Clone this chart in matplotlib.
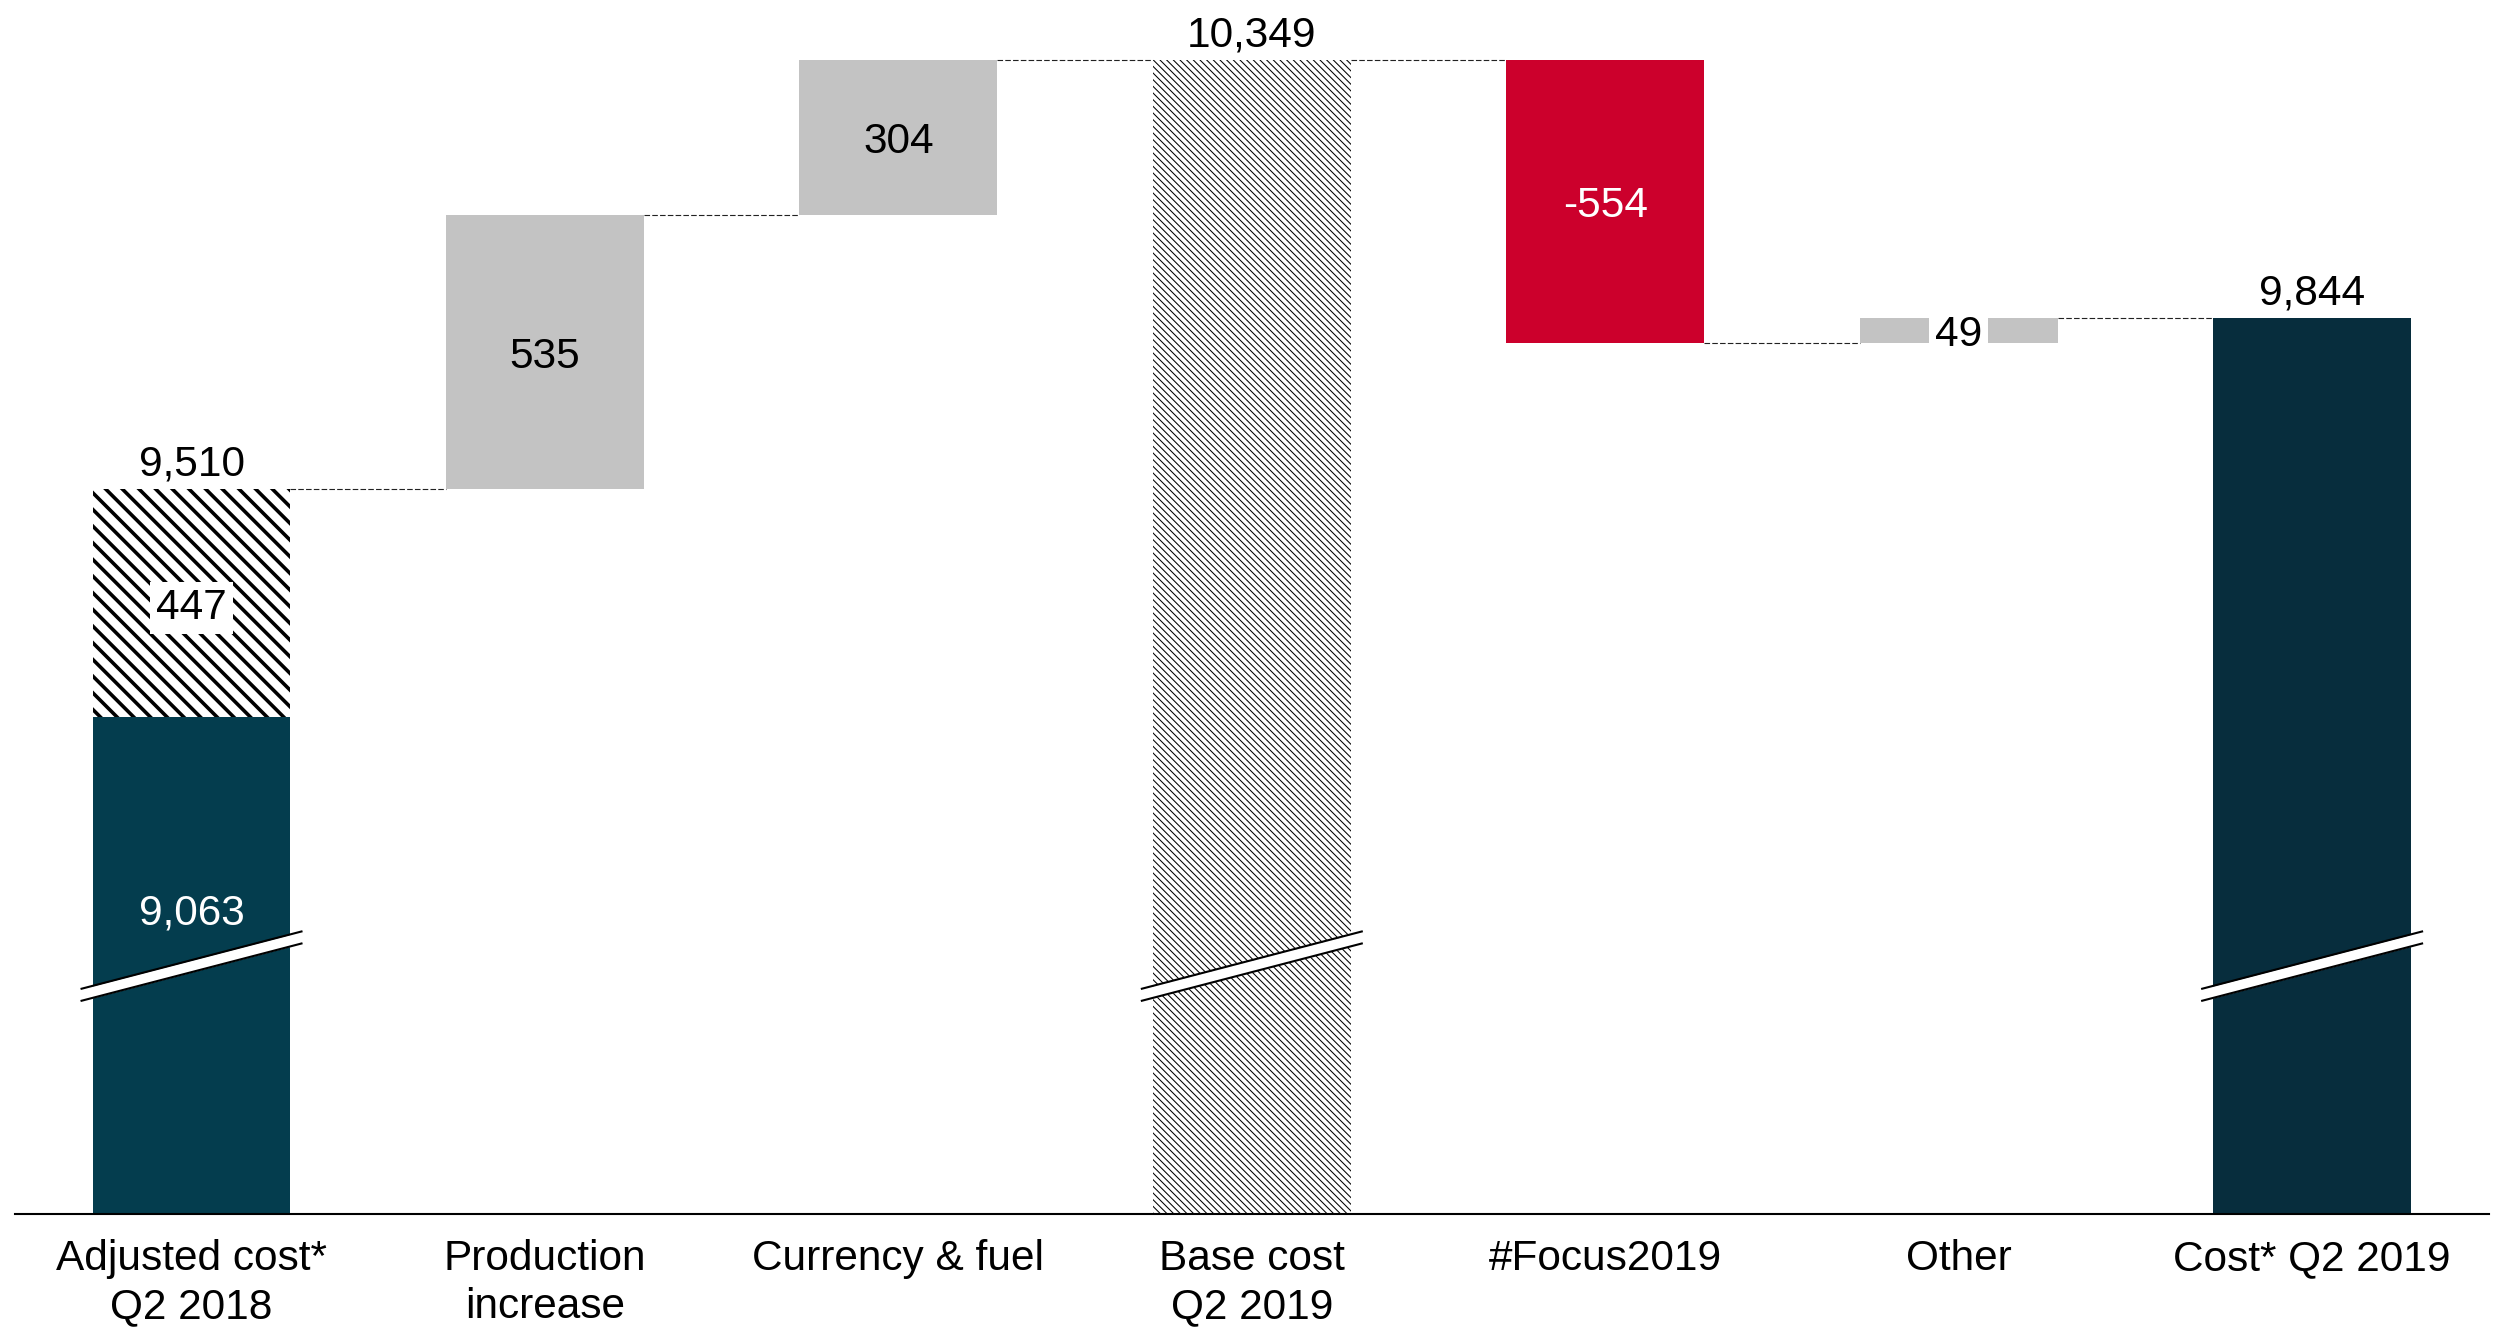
import numpy as np
import matplotlib.pyplot as plt

plt.rcParams['font.family'] = ['Liberation Sans', 'DejaVu Sans']

# cost bridge Q2 2018 -> Q2 2019 (values in millions)
categories = ['Adjusted cost*\nQ2 2018', 'Production\nincrease', 'Currency & fuel',
              'Base cost\nQ2 2019', '#Focus2019', 'Other', 'Cost* Q2 2019']
cost_q2_2018 = 9063
adjustment = 447
production = 535
currency_fuel = 304
base_cost = 10349
focus2019 = -554
other = 49
cost_q2_2019 = 9844

teal = '#043d4e'
navy = '#072d3d'
grey = '#c3c3c3'
red = '#cc002c'

x = np.arange(len(categories))
w = 0.56

# running totals
adjusted = cost_q2_2018 + adjustment
after_prod = adjusted + production
after_cur = after_prod + currency_fuel
after_focus = base_cost + focus2019
after_other = after_focus + other

fig = plt.figure(figsize=(24.98, 13.29), dpi=100)
ax = fig.add_axes([0.00593, 0.08653, 0.9904, 0.91347])

#bars:
ax.bar(x[0], cost_q2_2018, w, color=teal, zorder=2)
hb = ax.bar(x[0], adjustment, w, bottom=cost_q2_2018, facecolor='white', edgecolor='black',
            hatch='\\' * 2, linewidth=0, zorder=2)
ax.bar(x[1], production, w, bottom=adjusted, color=grey, zorder=2)
ax.bar(x[2], currency_fuel, w, bottom=after_prod, color=grey, zorder=2)
fb = ax.bar(x[3], base_cost, w, facecolor='white', edgecolor='black',
            hatch='\\' * 5, linewidth=0, zorder=2)
ax.bar(x[4], focus2019, w, bottom=base_cost, color=red, zorder=2)
ax.bar(x[5], other, w, bottom=after_focus, color=grey, zorder=2)
ax.bar(x[6], cost_q2_2019, w, color=navy, zorder=2)

# hatch line widths (per artist where supported)
for p in hb:
    if hasattr(p, 'set_hatch_linewidth'):
        p.set_hatch_linewidth(2.6)
for p in fb:
    if hasattr(p, 'set_hatch_linewidth'):
        p.set_hatch_linewidth(0.75)

#dashed connectors between bars:
levels = [adjusted, after_prod, after_cur, base_cost, after_focus, after_other]
for i, lv in enumerate(levels):
    ax.plot([x[i] + w / 2, x[i + 1] - w / 2], [lv, lv], color='#222222', lw=0.8,
            dashes=(5, 2), zorder=1)

#axis break marks on the full bars:
bx = 0.314
gap = 23.5
for xi in [x[0], x[3], x[6]]:
    xs = np.array([xi - bx, xi + bx])
    ys = np.array([8532, 8645])
    ax.fill_between(xs, ys - gap, ys, color='white', lw=0, zorder=3)
    ax.plot(xs, ys, color='black', lw=1.5, zorder=4, solid_capstyle='butt')
    ax.plot(xs, ys - gap, color='black', lw=1.5, zorder=4, solid_capstyle='butt')

#value labels:
fs = 30.5
for xi, v in [(x[0], adjusted), (x[3], base_cost), (x[6], cost_q2_2019)]:
    ax.annotate(f'{v:,}', (xi, v), xytext=(0, 3), textcoords='offset points',
                ha='center', va='bottom', fontsize=fs, color='black')


def inside_label(xi, y, v, color='black', box=None):
    ax.annotate(f'{v:,}', (xi, y), xytext=(0, -3.5), textcoords='offset points',
                ha='center', va='center', fontsize=fs, color=color, zorder=5, bbox=box)


white_box = dict(boxstyle='square,pad=0.14', facecolor='white', edgecolor='none')
inside_label(x[0], cost_q2_2018 + adjustment / 2, adjustment, box=white_box)
inside_label(x[1], adjusted + production / 2, production)
inside_label(x[2], after_prod + currency_fuel / 2, currency_fuel)
inside_label(x[4], base_cost + focus2019 / 2, focus2019, color='white')
inside_label(x[5], after_focus + other / 2, other, box=white_box)
ax.text(x[0], 8680, f'{cost_q2_2018:,}', ha='center', va='center', fontsize=fs,
        color='white', zorder=5)

ax.set_xlim(-0.5, 6.5)
ax.set_ylim(8092, 10466)
ax.set_xticks(x)
ax.set_xticklabels(categories, fontsize=30.5, linespacing=1.27)
ax.tick_params(axis='x', length=0, pad=18)
ax.set_yticks([])
for s in ['top', 'left', 'right']:
    ax.spines[s].set_visible(False)
ax.spines['bottom'].set_linewidth(1.5)
ax.spines['bottom'].set_zorder(6)

fig.savefig('out.png', dpi=100, facecolor='white')
